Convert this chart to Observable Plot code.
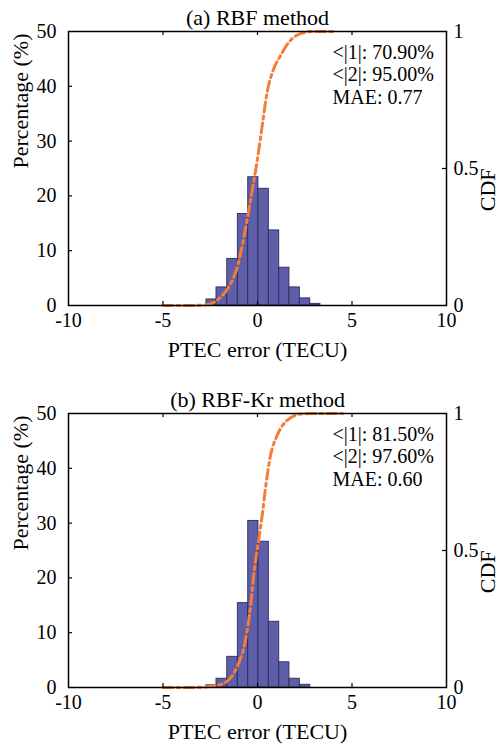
<!DOCTYPE html>
<html>
<head>
<meta charset="utf-8">
<script src="https://cdn.jsdelivr.net/npm/d3@7"></script>
<script src="https://cdn.jsdelivr.net/npm/@observablehq/plot@0.6"></script>
<style>
  html, body { margin: 0; padding: 0; background: white; }
  #chart svg { display: block; }
  #chart svg, #chart svg text { font-family: "Liberation Serif", "Times New Roman", Times, serif !important; }
</style>
</head>
<body>
<div id="chart"></div>
<script>
// ---- data ----
const binEdges = [-2.70, -2.17, -1.60, -1.04, -0.49, 0.05, 0.60, 1.15, 1.69, 2.24, 2.79, 3.33];
const pctA = [1.1, 3.3, 8.5, 16.7, 23.4, 21.3, 13.7, 6.9, 3.3, 1.3, 0.3];
const pctB = [0.4, 1.6, 5.6, 15.4, 30.4, 26.6, 12.0, 4.6, 1.6, 0.5, 0.0];

const cdfXA = [-5, -4, -3.0, -2.49, -1.96, -1.43, -1.07, -0.72, -0.46, -0.19, 0.0, 0.25, 0.51, 0.86, 1.22, 1.66, 2.28, 2.98, 4.0];
const cdfYA = [0, 0, 0.001, 0.006, 0.030, 0.079, 0.14, 0.249, 0.347, 0.456, 0.535, 0.657, 0.778, 0.864, 0.912, 0.961, 0.992, 1.0, 1.0];
const cdfXB = [-5, -3.5, -2.66, -1.96, -1.43, -0.99, -0.63, -0.37, -0.19, 0.0, 0.25, 0.42, 0.69, 1.04, 1.57, 2.28, 2.98, 4.5];
const cdfYB = [0, 0, 0.003, 0.011, 0.035, 0.09, 0.175, 0.296, 0.417, 0.51, 0.629, 0.726, 0.847, 0.92, 0.975, 0.998, 1.0, 1.0];

const xTicks = [-10, -5, 0, 5, 10];
const xInnerTicks = [-5, 0, 5];
const yTicks = [0, 10, 20, 30, 40, 50];
const yInnerTicks = [10, 20, 30, 40];
const cdfTicks = [0, 0.5, 1];
const cdfTickLabels = ["0", "0.5", "1"];

const titles = ["(a) RBF method", "(b) RBF-Kr method"];
const statsA = ["<|1|: 70.90%", "<|2|: 95.00%", "MAE: 0.77"];
const statsB = ["<|1|: 81.50%", "<|2|: 97.60%", "MAE: 0.60"];
const xLabel = "PTEC error (TECU)";
const yLabel = "Percentage (%)";
const y2Label = "CDF";

// ---- drawing ----
const FONT = '"Liberation Serif", "Times New Roman", Times, serif';
const BAR_FILL = "#5e5fa8";
const BAR_STROKE = "#2a2b5c";
const CDF_COLOR = "#f47c3c";
const YMAX = 50;
const TICK_FS = 20;
const LABEL_FS = 22;

function panel(title, pct, cdfX, cdfY, stats, height) {
  const bars = pct.map((v, i) => ({x1: binEdges[i], x2: binEdges[i + 1], y: v})).filter(d => d.y > 0);
  const cdf = cdfX.map((x, i) => ({x, c: cdfY[i]}));
  const plotH = 274;
  const plotW = 501 - 68 - 55;
  const txt = {fontFamily: FONT};
  return Plot.plot({
    width: 501,
    height,
    marginLeft: 68,
    marginRight: 55,
    marginTop: 31,
    marginBottom: height - 31 - plotH,
    x: {domain: [-10, 10]},
    y: {domain: [0, YMAX]},
    style: {fontFamily: FONT, fontSize: TICK_FS + "px", color: "black", background: "white"},
    marks: [
      Plot.rectY(bars, {x1: "x1", x2: "x2", y: "y", fill: BAR_FILL, stroke: BAR_STROKE, strokeWidth: 0.9}),
      Plot.line(cdf, {x: "x", y: d => d.c * YMAX, stroke: CDF_COLOR, strokeWidth: 3,
        strokeDasharray: "10,4,3,4", curve: "monotone-x"}),
      Plot.frame({stroke: "black", strokeWidth: 1.5}),
      Plot.tickX(xInnerTicks, {x: d => d, insetTop: plotH - 4, stroke: "black", strokeWidth: 1.2}),
      Plot.tickX(xInnerTicks, {x: d => d, insetBottom: plotH - 4, stroke: "black", strokeWidth: 1.2}),
      Plot.tickY(yInnerTicks, {y: d => d, insetRight: plotW - 4, stroke: "black", strokeWidth: 1.2}),
      Plot.tickY(cdfTicks.filter(t => t > 0 && t < 1), {y: d => d * YMAX, insetLeft: plotW - 4, stroke: "black", strokeWidth: 1.2}),
      Plot.axisX({ticks: xTicks, tickSize: 0, tickPadding: 7, label: null, tickFormat: d => String(d), fontSize: TICK_FS, ...txt}),
      Plot.axisY({ticks: yTicks, tickSize: 0, tickPadding: 12, label: null, tickFormat: d => String(d), fontSize: TICK_FS, ...txt}),
      Plot.axisY(cdfTicks.map(t => t * YMAX), {anchor: "right", tickSize: 0, tickPadding: 7, label: null,
        tickFormat: (d, i) => cdfTickLabels[i], fontSize: TICK_FS, ...txt}),
      Plot.text([title], {frameAnchor: "top", dy: -7, lineAnchor: "bottom", fontSize: LABEL_FS, ...txt}),
      ...stats.map((s, i) => Plot.text([s], {frameAnchor: "top-left", dx: 264, dy: 27 + i * 22.5, lineAnchor: "bottom",
        textAnchor: "start", fontSize: TICK_FS, ...txt})),
      Plot.text([xLabel], {frameAnchor: "bottom", dy: 51, lineAnchor: "bottom", fontSize: LABEL_FS, ...txt}),
      Plot.text([yLabel], {frameAnchor: "left", dx: -48, rotate: -90, lineAnchor: "middle", fontSize: LABEL_FS, ...txt}),
      Plot.text([y2Label], {frameAnchor: "right", dx: 33, rotate: -90, lineAnchor: "top", fontSize: LABEL_FS, ...txt})
    ]
  });
}

const root = document.getElementById("chart");
root.append(panel(titles[0], pctA, cdfXA, cdfYA, statsA, 382));
root.append(panel(titles[1], pctB, cdfXB, cdfYB, statsB, 363));
</script>
</body>
</html>
